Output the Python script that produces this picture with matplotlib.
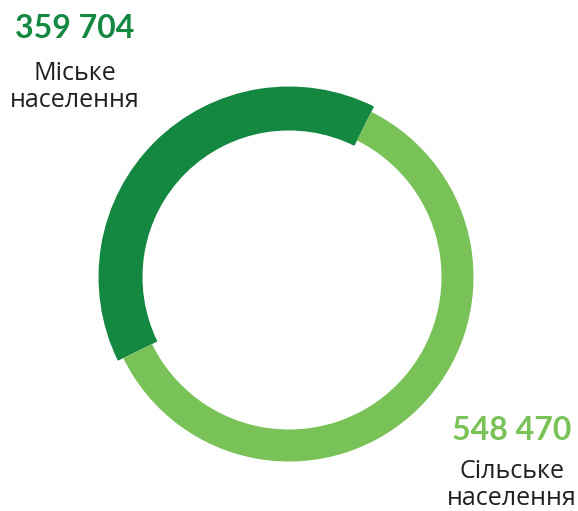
import matplotlib.pyplot as plt

# data
labels = ['Міське\nнаселення', 'Сільське\nнаселення']
values = [359704, 548470]
value_text = ['359 704', '548 470']
colors = ['#148741', '#78c257']

W, H = 578, 511
fig = plt.figure(figsize=(W / 100, H / 100), dpi=100)
ax = fig.add_axes([0, 0, 1, 1])
ax.set_xlim(0, W)
ax.set_ylim(0, H)
ax.set_aspect('equal')
ax.axis('off')

cx, cy = 289, H - 277
start = 63.5

# thick dark wedge for urban, thinner light ring for rural
ax.pie(values, colors=[colors[0], 'none'], startangle=start, counterclock=True,
       radius=190.5, center=(cx, cy), wedgeprops=dict(width=44, linewidth=0))
ax.pie(values, colors=['none', colors[1]], startangle=start, counterclock=True,
       radius=184.5, center=(cx, cy), wedgeprops=dict(width=32, linewidth=0))
ax.set_xlim(0, W)
ax.set_ylim(0, H)

# urban label
ax.text(75, H - 28, value_text[0], ha='center', va='center', fontsize=23,
        fontweight='bold', color=colors[0], family='Lato')
ax.text(75, H - 87, labels[0], ha='center', va='center', fontsize=18,
        color='#231f20', family='Open Sans', linespacing=1.15)
# rural label
ax.text(512, H - 485, labels[1], ha='center', va='center', fontsize=18,
        color='#231f20', family='Open Sans', linespacing=1.12)
ax.text(512, H - 431, value_text[1], ha='center', va='center', fontsize=23,
        fontweight='bold', color=colors[1], family='Lato')

fig.savefig('out.png', dpi=100)
